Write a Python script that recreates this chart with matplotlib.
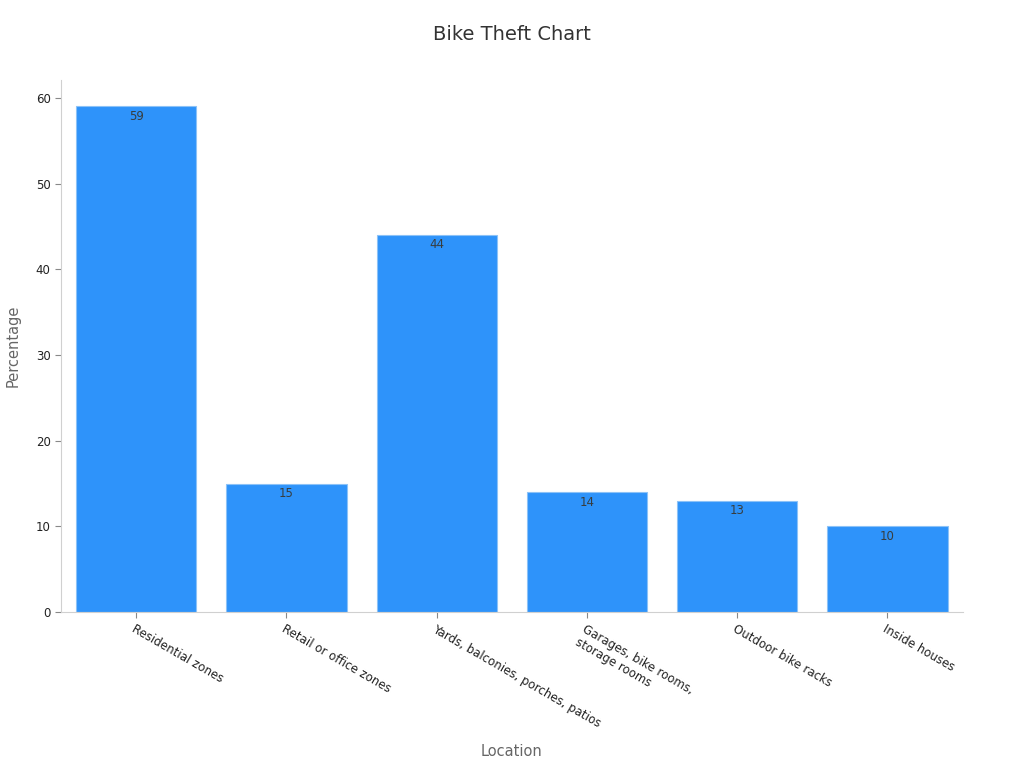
import matplotlib.pyplot as plt

# data
locations = ['Residential zones', 'Retail or office zones', 'Yards, balconies, porches, patios',
             'Garages, bike rooms,\nstorage rooms', 'Outdoor bike racks', 'Inside houses']
percentages = [59, 15, 44, 14, 13, 10]

fig = plt.figure(figsize=(10.24, 7.68), dpi=100)
ax = fig.add_axes([0.0596, 0.203, 0.8804, 0.693])

bars = ax.bar(range(len(locations)), percentages, width=0.8,
              color='#2E93FA', edgecolor='#8CC2F7', linewidth=0.8)

for b, v in zip(bars, percentages):
    ax.text(b.get_x() + b.get_width() / 2, v - 0.4, str(v), ha='center', va='top',
            fontsize=8.5, color='#373d3f')

ax.set_xlim(-0.5, 5.5)
ax.set_ylim(0, 62.1)
ax.set_yticks([0, 10, 20, 30, 40, 50, 60])
ax.set_xticks(range(len(locations)))
ax.set_xticklabels(locations, rotation=-30, ha='left', rotation_mode='anchor',
                   fontsize=8.5, color='#222222')
ax.tick_params(axis='y', labelsize=8.5, colors='#222222')
ax.tick_params(axis='both', color='#888888', length=4)

for s in ['top', 'right']:
    ax.spines[s].set_visible(False)
for s in ['left', 'bottom']:
    ax.spines[s].set_color('#d0d0d0')

ax.set_xlabel('Location', fontsize=10.5, color='#666666')
ax.xaxis.set_label_coords(0.5, -0.247)
ax.set_ylabel('Percentage', fontsize=10.5, color='#666666')
ax.yaxis.set_label_coords(-0.045, 0.5)
fig.suptitle('Bike Theft Chart', fontsize=14, color='#333333', y=0.968)

plt.savefig('out.png', dpi=100)
